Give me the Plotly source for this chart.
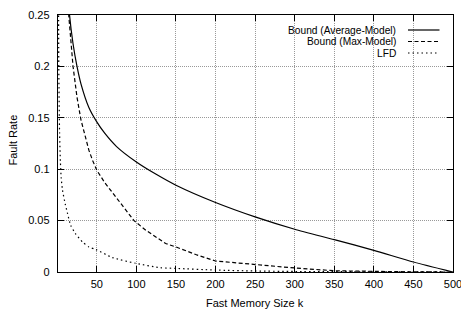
import plotly.graph_objects as go

# ---- data ----
series_names = ["Bound (Average-Model)", "Bound (Max-Model)", "LFD"]

avg_k = [10, 15, 20, 25, 30, 40, 50, 60, 75, 100, 125, 150, 200, 250, 300, 350, 400, 450, 500]
avg_fr = [0.33, 0.255, 0.222, 0.200, 0.183, 0.160, 0.146, 0.135, 0.122, 0.107, 0.095, 0.0844,
          0.0676, 0.0536, 0.0416, 0.0315, 0.0211, 0.0097, 0.0]

max_k = [10, 14, 20, 25, 30, 35, 40, 45, 50, 60, 75, 87, 97, 112, 124, 137, 150, 175, 200, 250, 300, 350, 400, 450, 500]
max_fr = [0.34, 0.255, 0.200, 0.170, 0.148, 0.132, 0.1185, 0.108, 0.099, 0.087, 0.072, 0.060, 0.050, 0.0406,
          0.034, 0.0277, 0.0244, 0.017, 0.0107, 0.0072, 0.0039, 0.0012, 0.0004, 0.0001, 0.0]

lfd_k = [1, 2, 3, 4, 5, 6.6, 10, 13, 17, 23, 32, 40, 49, 70, 99, 130, 150, 200, 250, 300, 400, 500]
lfd_fr = [0.6, 0.20, 0.135, 0.108, 0.092, 0.080, 0.0666, 0.057, 0.0455, 0.0374, 0.0292, 0.0244,
          0.0218, 0.014, 0.0085, 0.0042, 0.0035, 0.0019, 0.0010, 0.0005, 0.0002, 0.0]

x_ticks = [50, 100, 150, 200, 250, 300, 350, 400, 450, 500]
y_ticks = [0, 0.05, 0.1, 0.15, 0.2, 0.25]
y_tick_text = ["0", "0.05", "0.1", "0.15", "0.2", "0.25"]

x_title = "Fast Memory Size k"
y_title = "Fault Rate"

dashes = ["solid", "4px,2.5px", "1.5px,3px"]
shapes = ["spline", "linear", "spline"]
FONT = "Liberation Sans, Arial, Helvetica, sans-serif"

# plot area in pixels
L, R, T, B = 58, 453, 15, 272
W, H = 461, 316


def px_to_paper(px, py):
    return (px - L) / (R - L), (B - py) / (B - T)


fig = go.Figure()
for name, xs, ys, d, sh in zip(series_names, [avg_k, max_k, lfd_k], [avg_fr, max_fr, lfd_fr], dashes, shapes):
    fig.add_trace(go.Scatter(x=xs, y=ys, mode="lines", name=name,
                             line=dict(color="black", width=1.2, dash=d, shape=sh, smoothing=0.6),
                             showlegend=False, cliponaxis=True, hoverinfo="skip"))

# legend built manually (text right-aligned, sample on the right, like gnuplot)
for i, (name, d) in enumerate(zip(series_names, dashes)):
    yp = 30 + i * 11.5
    tx, ty = px_to_paper(397, yp)
    fig.add_annotation(xref="paper", yref="paper", x=tx, y=ty,
                       text=name, showarrow=False, xanchor="right", yanchor="middle",
                       borderpad=0, font=dict(size=10.2, color="black", family=FONT))
    x0, _ = px_to_paper(408, yp)
    x1, _ = px_to_paper(439.5, yp)
    fig.add_shape(type="line", xref="paper", yref="paper",
                  x0=x0, x1=x1, y0=ty, y1=ty, line=dict(color="black", width=1.2, dash=d))

# axis titles as annotations at exact positions
ax, ay = px_to_paper(255, 303)
fig.add_annotation(xref="paper", yref="paper", x=ax, y=ay, text=x_title, showarrow=False,
                   xanchor="center", yanchor="middle", font=dict(size=11, color="black", family=FONT))
bx, by = px_to_paper(12.5, 140)
fig.add_annotation(xref="paper", yref="paper", x=bx, y=by, text=y_title, showarrow=False,
                   textangle=-90, xanchor="center", yanchor="middle",
                   font=dict(size=11, color="black", family=FONT))

axis_common = dict(showline=True, linecolor="black", linewidth=1.2, mirror="allticks",
                   ticks="inside", ticklen=6, tickcolor="black", tickwidth=1,
                   showgrid=True, gridcolor="#999999", gridwidth=1, griddash="1px,1px",
                   zeroline=False, automargin=False, ticklabeloverflow="allow",
                   tickfont=dict(size=11, color="black", family=FONT))

fig.update_xaxes(range=[1, 500], tickvals=x_ticks, ticklabelstandoff=2, **axis_common)
fig.update_yaxes(range=[0, 0.25], tickvals=y_ticks, ticktext=y_tick_text,
                 ticklabelstandoff=5, **axis_common)

fig.update_layout(width=W, height=H, margin=dict(l=L, r=W - R, t=T, b=H - B, autoexpand=False),
                  plot_bgcolor="white", paper_bgcolor="white",
                  font=dict(family=FONT, color="black"))

fig.write_html("out.html", config={"displayModeBar": False, "staticPlot": True},
               post_script="document.body.style.margin='0';document.body.style.overflow='hidden';")
